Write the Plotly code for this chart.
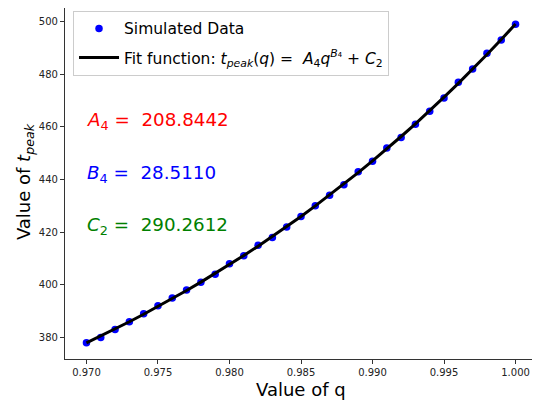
import numpy as np
import plotly.graph_objects as go

# Data
q_values = [0.970, 0.971, 0.972, 0.973, 0.974, 0.975, 0.976, 0.977, 0.978, 0.979,
            0.980, 0.981, 0.982, 0.983, 0.984, 0.985, 0.986, 0.987, 0.988, 0.989,
            0.990, 0.991, 0.992, 0.993, 0.994, 0.995, 0.996, 0.997, 0.998, 0.999, 1.000]
t_peak = [378, 380, 383, 386, 389, 392, 395, 398, 401, 404,
          408, 411, 415, 418, 422, 426, 430, 434, 438, 443,
          447, 452, 456, 461, 466, 471, 477, 482, 488, 493, 499]

# Fit parameters shown on the chart
A4 = 208.8442
B4 = 28.5110
C2 = 290.2612

q_fit = np.array(q_values)
t_fit = A4 * q_fit ** B4 + C2

FONT = "DejaVu Sans"

fig = go.Figure()
fig.add_trace(go.Scatter(
    x=q_values, y=t_peak, mode="markers",
    marker=dict(color="#0000ff", size=7.5),
    legendgroup="a",
    name="Simulated Data"))
fig.add_trace(go.Scatter(
    x=q_fit, y=t_fit, mode="lines",
    line=dict(color="black", width=3),
    legendgroup="b",
    name="Fit function: <i>t</i><sub><i>peak</i></sub>(<i>q</i>) =  <i>A</i><sub>4</sub><i>q</i><sup><i>B</i>₄</sup> + <i>C</i><sub>2</sub>"))

ann = [
    (f"<i>A</i><sub>4</sub> =  {A4:.4f}", "red", 462.3),
    (f"<i>B</i><sub>4</sub> =  {B4:.4f}", "#0000ff", 442.1),
    (f"<i>C</i><sub>2</sub> =  {C2:.4f}", "green", 422.3),
]
for text, color, yv in ann:
    fig.add_annotation(x=0.9699, y=yv, xref="x", yref="y", text=text,
                       showarrow=False, xanchor="left", yanchor="middle",
                       font=dict(family=FONT, size=18.3, color=color))

# Axis titles
fig.add_annotation(x=0.5, y=-0.088, xref="paper", yref="paper", text="Value of q",
                   showarrow=False, xanchor="center", yanchor="middle",
                   font=dict(family=FONT, size=18, color="black"))
fig.add_annotation(x=-0.0847, y=0.504, xref="paper", yref="paper",
                   text="Value of <i>t</i><sub><i>peak</i></sub>", textangle=-90,
                   showarrow=False, xanchor="center", yanchor="middle",
                   font=dict(family=FONT, size=18, color="black"))

axis_common = dict(showgrid=False, zeroline=False, showline=True, mirror=True,
                   linecolor="#333333", linewidth=1.2, ticks="outside",
                   ticklen=4, tickcolor="#333333", automargin=False,
                   tickfont=dict(family=FONT, size=10, color="#222222"))

fig.update_xaxes(range=[0.9685, 1.0015], tickvals=[0.970, 0.975, 0.980, 0.985, 0.990, 0.995, 1.000],
                 ticktext=["0.970", "0.975", "0.980", "0.985", "0.990", "0.995", "1.000"],
                 **axis_common)
fig.update_yaxes(range=[371.8, 505.2], tickvals=[380, 400, 420, 440, 460, 480, 500],
                 **axis_common)

fig.update_layout(
    width=532, height=398,
    margin=dict(l=57, r=3, t=0, b=47),
    paper_bgcolor="white", plot_bgcolor="white",
    font=dict(family=FONT),
    legend=dict(x=0.017, y=0.992, xanchor="left", yanchor="top",
                bgcolor="rgba(255,255,255,0.8)", bordercolor="#cccccc", borderwidth=1,
                font=dict(family=FONT, size=15.5, color="black"),
                itemwidth=40, tracegroupgap=6),
    showlegend=True,
)

fig.write_html("out.html")
